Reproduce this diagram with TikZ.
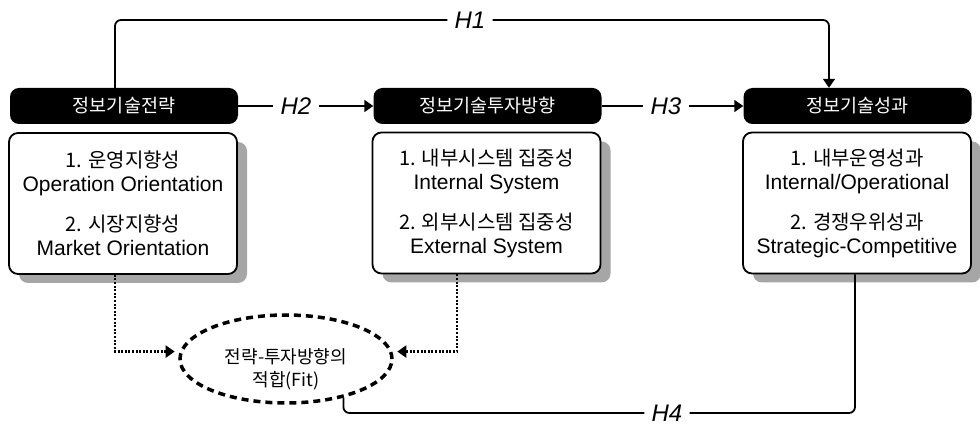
\documentclass[tikz,border=0pt]{standalone}
\usepackage{fontspec}
\setmainfont{Liberation Sans}
\newfontfamily\kr{Noto Sans CJK KR}
\usetikzlibrary{arrows.meta,shapes.geometric,shadows}
\newcommand\krl[1]{{\kr\fontsize{20}{24}\selectfont #1}}
\begin{document}
\begin{tikzpicture}[x=1pt,y=-1pt,
  titlebox/.style={fill=black, rounded corners=9pt, minimum width=228pt, minimum height=36pt,
    text=white, font=\kr\fontsize{18.5}{20}\selectfont, inner sep=0pt},
  itembox/.style={draw, line width=1.8pt, fill=white, rounded corners=9pt,
    minimum width=228pt, minimum height=141pt, align=center, inner sep=0pt,
    font=\fontsize{21}{24}\selectfont,
    drop shadow={shadow xshift=10pt, shadow yshift=-9pt, fill=black!35, opacity=1}},
  hlabel/.style={font=\itshape\fontsize{24}{26}\selectfont, inner xsep=7pt, inner ysep=2pt},
  conn/.style={line width=1.8pt},
  arr/.style={conn, -{Triangle[length=9pt,width=12pt]}},
  dotarr/.style={line width=2.2pt, dash pattern=on 2pt off 1.6pt, -{Triangle[length=9pt,width=12pt]}},
  fitell/.style={draw, ellipse, line width=3.5pt, dash pattern=on 7pt off 5pt,
    minimum width=212pt, minimum height=88pt, inner sep=0pt},
  fittext/.style={font=\kr\fontsize{18}{23}\selectfont, align=center, inner sep=0pt}
]
\useasboundingbox (0,0) rectangle (980,427);

% title boxes
\node[titlebox] (b1) at (124,106) {정보기술전략};
\node[titlebox] (b2) at (487.5,106) {정보기술투자방향};
\node[titlebox] (b3) at (857.5,106) {정보기술성과};

% item boxes
\node[itembox] (w1) at (123,203.5) {\krl{1. 운영지향성}\\ Operation Orientation\\[16pt] \krl{2. 시장지향성}\\ Market Orientation};
\node[itembox] (w2) at (486.5,203) {\krl{1. 내부시스템 집중성}\\ Internal System\\[16pt] \krl{2. 외부시스템 집중성}\\ External System};
\node[itembox] (w3) at (857,203) {\krl{1. 내부운영성과}\\ Internal/Operational\\[16pt] \krl{2. 경쟁우위성과}\\ Strategic-Competitive};

% fit ellipse
\node[fitell] (fit) at (286,359) {};
\node[fittext] (fitlbl) at (286,369) {전략-투자방향의\\적합(Fit)};

% hypothesis labels
\node[hlabel] (h1) at (470,20) {H1};
\node[hlabel] (h2) at (296,106) {H2};
\node[hlabel] (h3) at (666,106) {H3};
\node[hlabel] (h4) at (667,413) {H4};

\coordinate (xL) at (115,0);
\coordinate (xR) at (829,0);
\coordinate (xH4) at (855,0);
\coordinate (xD1) at (115,0);
\coordinate (xD2) at (457,0);

% H1
\draw[conn, rounded corners=6pt] (b1.north -| xL) |- (h1.west);
\draw[arr, rounded corners=6pt] (h1.east) -| (b3.north -| xR);
% H2, H3
\draw[conn] (b1.east) -- (h2.west);
\draw[arr] (h2.east) -- (b2.west);
\draw[conn] (b2.east) -- (h3.west);
\draw[arr] (h3.east) -- (b3.west);
% H4
\draw[conn, rounded corners=6pt] (w3.south -| xH4) |- (h4.east);
\draw[conn, rounded corners=6pt] (h4.west) -| (fit.-34);
% dotted fit arrows
\draw[dotarr, shorten >=5pt] (w1.south -| xD1) |- (fit.176);
\draw[dotarr, shorten >=5pt] (w2.south -| xD2) |- (fit.4);
\end{tikzpicture}
\end{document}
